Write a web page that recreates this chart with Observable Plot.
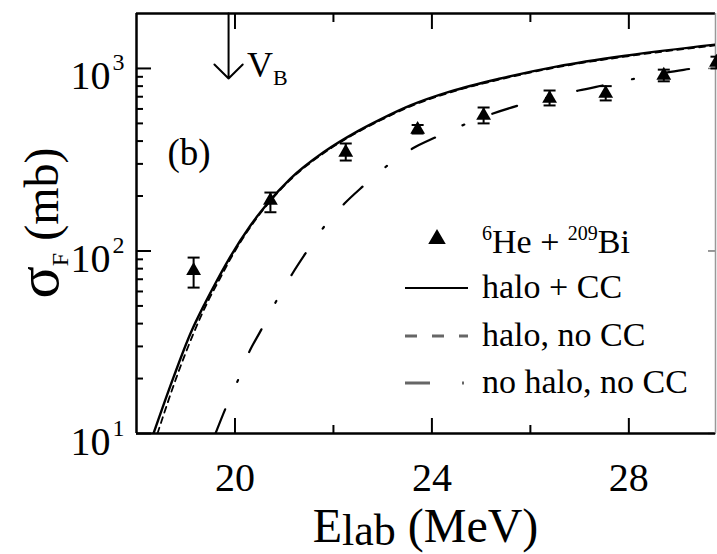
<!DOCTYPE html>
<html><head><meta charset="utf-8">
<script src="https://cdn.jsdelivr.net/npm/d3@7"></script>
<script src="https://cdn.jsdelivr.net/npm/@observablehq/plot@0.6"></script>
<style>html,body{margin:0;padding:0;background:#fff} svg{display:block} svg text, svg tspan{font-family:'Liberation Serif','Times New Roman',serif !important;}</style>
</head><body><div id="chart"></div>
<script>
// ---- data ----
const haloCC_E   = [18.345,18.751,19.096,19.401,19.645,19.848,20.315,20.660,21.127,21.798,22.488,22.956,23.565,24.378,25.393,26.551,27.973,29.801];
const haloCC_S   = [10.0,20.3,35.3,52.3,69.8,87.5,138,182,249,347,452,526,627,748,881,1026,1178,1355];
const haloNoCC_E = [18.426,18.812,19.157,19.441,19.685,19.878,20.335,20.660,21.127,21.798,22.488,22.956,23.565,24.378,25.393,26.551,27.973,29.801];
const haloNoCC_S = [10.0,20.3,35.3,52.3,69.8,87.5,138,180,246,343,447,520,620,740,872,1016,1166,1342];
const noHalo_E   = [19.604,19.807,20.051,20.274,20.538,20.823,21.168,21.432,21.798,22.224,22.590,23.098,23.605,24.073,24.662,25.190,25.759,26.368,26.977,27.566,28.135,28.785,29.293,29.801];
const noHalo_S   = [10.0,13.7,19.3,27.4,37.2,52.2,75.3,96.9,134.5,182,225,294,364,419,493,560,627,693,757,817,881,951,1000,1052];
const expE  = [19.16,20.72,22.25,23.71,25.05,26.39,27.53,28.71,29.78];
const expS  = [78,189,347,463,552,685,729,916,1079];
const expLo = [63,163,313,440,500,627,668,850,1000];
const expHi = [92,209,388,490,611,757,800,985,1160];
const VB = 19.87, VBtip = 880;
const xMajor = [20,24,28], xMinor = [22,26];
const xLabels = ["20","24","28"];
const yMajor = [10,100,1000];
const yBase = ["10","10","10"], yExp = ["1","2","3"];
const yMinor = [20,30,40,50,60,70,80,90,200,300,400,500,600,700,800,900];
const legendLabels = ["halo + CC","halo, no CC","no halo, no CC"];

// ---- build ----
const W=717,H=554, ml=136, mt=13, mr=2, mb=121;
const FONT = "'Liberation Serif','Times New Roman',serif";
const mk = (E,S)=>E.map((e,i)=>({e, s:S[i]}));
const pts = expE.map((e,i)=>({e, s:expS[i], lo:expLo[i], hi:expHi[i]}));
const cap = {draw(ctx,size){const r=Math.sqrt(size/Math.PI); ctx.moveTo(-r,0); ctx.lineTo(r,0);}};
const blank = ()=>"";
const tk = (o)=>({tickFormat:blank, label:null, stroke:"#000", strokeWidth:2, ...o});
const chart = Plot.plot({
  width:W, height:H, marginLeft:ml, marginTop:mt, marginRight:mr, marginBottom:mb,
  style:{fontFamily:FONT, background:"#fff", color:"#000", overflow:"hidden"},
  x:{type:"linear", domain:[18,29.76]},
  y:{type:"log", domain:[10,2000]},
  marks:[
    // ticks (inward)
    Plot.axisY(yMajor, tk({anchor:"left", tickSize:15, dx:15})),
    Plot.axisY(yMinor, tk({anchor:"left", tickSize:7, dx:7})),
    Plot.axisY(yMajor, tk({anchor:"right", tickSize:8, dx:-8, stroke:"#777", strokeWidth:1.5})),
    Plot.axisX(xMajor, tk({anchor:"bottom", tickSize:15, dy:-15})),
    Plot.axisX(xMinor, tk({anchor:"bottom", tickSize:8, dy:-8})),
    Plot.axisX(xMajor, tk({anchor:"top", tickSize:15, dy:15})),
    Plot.axisX(xMinor, tk({anchor:"top", tickSize:8, dy:8})),
    // frame lines
    Plot.ruleY([10,2000],{stroke:"#000", strokeWidth:2.5}),
    Plot.ruleX([18],{stroke:"#000", strokeWidth:2.5}),
    Plot.ruleX([29.76],{stroke:"#999", strokeWidth:1.5}),
    // tick labels
    Plot.text(yMajor,{y:d=>d, frameAnchor:"left", text:(d,i)=>yBase[i], textAnchor:"end", lineAnchor:"bottom", dx:-26, dy:21, fontSize:40}),
    Plot.text(yMajor,{y:d=>d, frameAnchor:"left", text:(d,i)=>yExp[i], textAnchor:"start", lineAnchor:"bottom", dx:-24, dy:2, fontSize:24}),
    Plot.text(xMajor,{x:d=>d, frameAnchor:"bottom", text:(d,i)=>xLabels[i], lineAnchor:"bottom", dy:57, fontSize:40}),
    // curves
    Plot.line(mk(noHalo_E,noHalo_S),{x:"e", y:"s", curve:"monotone-x", stroke:"#000", strokeWidth:2.2, strokeDasharray:"26,30,2,30", clip:true}),
    Plot.line(mk(haloNoCC_E,haloNoCC_S),{x:"e", y:"s", curve:"monotone-x", stroke:"#000", strokeWidth:1.8, strokeDasharray:"6,5", clip:true}),
    Plot.line(mk(haloCC_E,haloCC_S),{x:"e", y:"s", curve:"monotone-x", stroke:"#000", strokeWidth:2.4, clip:true}),
    // data with error bars
    Plot.ruleX(pts,{x:"e", y1:"lo", y2:"hi", stroke:"#000", strokeWidth:2}),
    Plot.dot(pts,{x:"e", y:"lo", symbol:cap, r:6, stroke:"#000", strokeWidth:2}),
    Plot.dot(pts,{x:"e", y:"hi", symbol:cap, r:6, stroke:"#000", strokeWidth:2}),
    Plot.dot(pts,{x:"e", y:"s", symbol:"triangle", r:5.5, fill:"#000", stroke:"none"}),
    // V_B arrow
    Plot.arrow([VB],{x1:d=>d, x2:d=>d, y1:()=>2000, y2:()=>VBtip, stroke:"#000", strokeWidth:2, headAngle:90, headLength:15})
  ]
});
document.getElementById("chart").appendChild(chart);

// ---- annotations, titles and legend ----
const svg = d3.select(chart);
const xs = chart.scale("x"), ys = chart.scale("y");
const g = svg.append("g").attr("fill", "#000").attr("text-anchor", "start").style("font-family", FONT);
// V_B label
const vb = g.append("text").attr("x", xs.apply(VB)+19).attr("y", ys.apply(VBtip)-1);
vb.append("tspan").attr("font-size", 36).text("V");
vb.append("tspan").attr("font-size", 22).attr("dy", 8).text("B");
// panel label
g.append("text").attr("x", 189).attr("y", 165).attr("text-anchor","middle").attr("font-size", 37).text("(b)");
// x title
const xt = g.append("text").attr("x", (ml + W - mr)/2).attr("y", 542).attr("text-anchor","middle");
xt.append("tspan").attr("font-size", 48).text("E");
xt.append("tspan").attr("font-size", 44).attr("dy", 3).text("lab");
xt.append("tspan").attr("font-size", 48).attr("dy", -3).text(" (MeV)");
// y title
const yt = g.append("text").attr("transform", `translate(58,${(mt + H - mb)/2}) rotate(-90)`).attr("text-anchor","middle");
yt.append("tspan").attr("font-size", 60).text("σ");
yt.append("tspan").attr("font-size", 24).attr("dy", 10).text("F");
yt.append("tspan").attr("font-size", 48).attr("dy", -10).text(" (mb)");
// legend
const lx = 405, tx = 482, rows = [253, 298, 346, 393];
g.append("path").attr("d", d3.symbol(d3.symbolTriangle, Math.PI*6.5*6.5)()).attr("transform", `translate(437,${rows[0]-14})`);
const l1 = g.append("text").attr("x", tx).attr("y", rows[0]).attr("font-size", 34);
l1.append("tspan").attr("font-size", 20).attr("dy", -13).text("6");
l1.append("tspan").attr("dy", 13).text("He + ");
l1.append("tspan").attr("font-size", 20).attr("dy", -13).text("209");
l1.append("tspan").attr("dy", 13).text("Bi");
const dashes = [null, "12,15", "25,32,2,100"];
const colors = ["#000", "#666", "#666"];
const widths = [2.2, 3, 3];
legendLabels.forEach((lab, i) => {
  const y = rows[i+1];
  const ln = g.append("line").attr("x1", lx).attr("x2", 468).attr("y1", y-10).attr("y2", y-10)
    .attr("stroke", colors[i]).attr("stroke-width", widths[i]);
  if (dashes[i]) ln.attr("stroke-dasharray", dashes[i]);
  g.append("text").attr("x", tx).attr("y", y).attr("font-size", 34).text(lab);
});
</script>
</body></html>
